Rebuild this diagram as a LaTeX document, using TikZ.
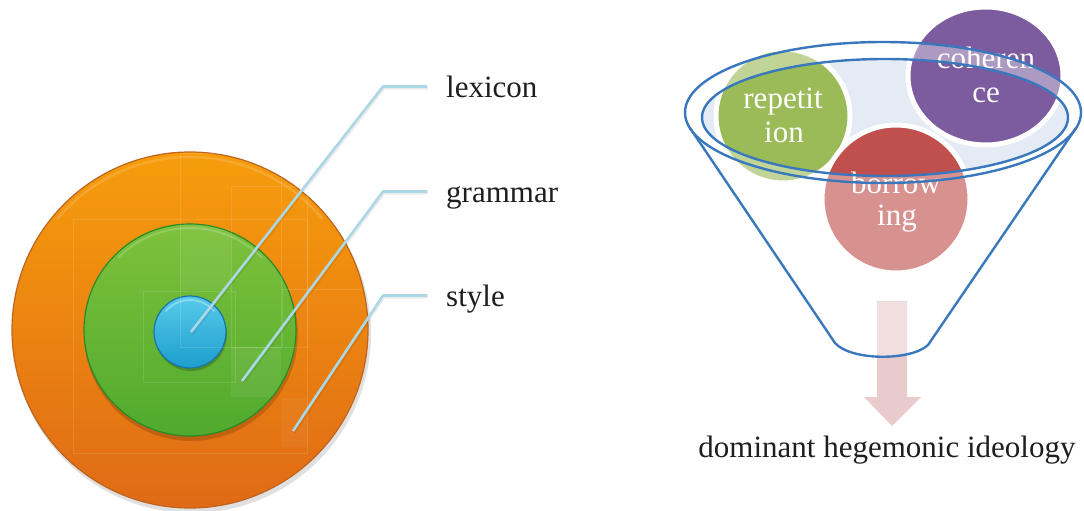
\documentclass[tikz,border=0pt]{standalone}
\usepackage{fontspec}
\setmainfont{Liberation Serif}
\usetikzlibrary{shapes.geometric}

\definecolor{orTop}{RGB}{246,157,12}
\definecolor{orBot}{RGB}{224,106,22}
\definecolor{orEdge}{RGB}{190,100,30}
\definecolor{grTop}{RGB}{126,193,60}
\definecolor{grBot}{RGB}{80,170,46}
\definecolor{grEdge}{RGB}{38,138,40}
\definecolor{blTop}{RGB}{88,202,236}
\definecolor{blBot}{RGB}{28,158,205}
\definecolor{blEdge}{RGB}{22,118,168}
\definecolor{connblue}{RGB}{172,215,228}
\definecolor{funnelblue}{RGB}{58,120,190}
\definecolor{paleblue}{RGB}{228,235,244}
\definecolor{repGreen}{RGB}{155,187,89}
\definecolor{cohPurple}{RGB}{124,92,159}
\definecolor{borRed}{RGB}{192,80,77}
\definecolor{arrowPink}{RGB}{233,203,203}
\definecolor{inkgray}{RGB}{30,30,30}

\begin{document}
\begin{tikzpicture}[x=1pt,y=-1pt,
  disc/.style={circle, inner sep=0pt, line width=1.2pt},
  lab/.style={font=\fontsize{31}{34}\selectfont, text=inkgray, inner sep=0pt,
              text height=21pt, text depth=0pt, anchor=base west},
  conn/.style={draw=connblue, line width=2.6pt, line join=round},
  connshade/.style={draw=black, opacity=0.08, line width=3pt, line join=round},
  faint/.style={draw=white, opacity=0.12, line width=0.6pt},
  ball/.style={circle, inner sep=0pt, draw=white, line width=5pt},
  cl/.style={font=\fontsize{31}{34}\selectfont, text=white, inner sep=0pt, anchor=base},
  funnel/.style={draw=funnelblue, line width=2.4pt, line join=round},
]
\useasboundingbox (0,0) rectangle (1084,511);

% ---------- nested discs ----------
\fill[black, opacity=0.12] (192,334) circle (179pt);
\node[disc, top color=orTop, bottom color=orBot, draw=orEdge, minimum size=356pt] (styleDisc) at (190,330) {};
\draw[white, opacity=0.14, line width=2.5pt] ([shift={(140:173pt)}]190,330) arc[start angle=140, end angle=40, radius=173pt];

\fill[black, opacity=0.16] (191,334) circle (107pt);
\node[disc, top color=grTop, bottom color=grBot, draw=grEdge, minimum size=212pt] (grammarDisc) at (190,330) {};
\draw[white, opacity=0.18, line width=2pt] ([shift={(135:102pt)}]190,330) arc[start angle=135, end angle=45, radius=102pt];

\fill[black, opacity=0.2] (191,335) circle (36pt);
\node[disc, top color=blTop, bottom color=blBot, draw=blEdge, minimum size=72pt] (lexiconDisc) at (190,332) {};
\draw[white, opacity=0.35, line width=1.6pt] ([shift={(140:32pt)}]190,332) arc[start angle=140, end angle=40, radius=32pt];

% soft light patches and hairlines on the discs
\begin{scope}
  \clip (190,330) circle (106pt);
  \fill[white, opacity=0.05] (180,223) rectangle (231,290);
  \fill[white, opacity=0.06] (231,347) rectangle (281,397);
\end{scope}
\fill[white, opacity=0.04] (281,398) rectangle (307,447);
\draw[faint] (73,219) rectangle (307,453);
\draw[faint] (180,153) rectangle (281,347);
\draw[faint] (231,186) rectangle (307,347);
\draw[faint] (143,291) rectangle (235,382);
\draw[faint] (282,289) -- (362,289);
\draw[faint] (282,289) -- (282,347);

% ---------- labels and leader lines ----------
\node[lab] (lexicon) at (446,97) {lexicon};
\node[lab] (grammar) at (446,202) {grammar};
\node[lab] (style) at (446,306) {style};

\coordinate (lexEnd) at (191,332);
\coordinate (gramEnd) at (242,381);
\coordinate (styEnd) at (293,431);

\foreach \lbl/\tip in {lexicon/lexEnd, grammar/gramEnd, style/styEnd}{
  \draw[connshade] ([xshift=-18pt,yshift=-1.5pt]\lbl.west) -- ++(-44,0) -- ([xshift=1pt,yshift=-1.5pt]\tip);
  \draw[conn] ([xshift=-19pt]\lbl.west) -- ++(-44,0) -- (\tip);
}

% ---------- funnel ----------
\fill[paleblue] (885,117.5) ellipse [x radius=183pt, y radius=58.5pt];

\node[ball, fill=repGreen, minimum size=134pt] (repetition) at (783,116) {};
\node[ball, ellipse, fill=cohPurple, minimum width=155pt, minimum height=138pt] (coherence) at (985.5,76) {};
\node[ball, fill=borRed, minimum size=148pt] (borrowing) at (896,199) {};

% downward arrow
\fill[arrowPink] (877,301) -- (907,301) -- (907,397) -- (921,397) -- (892,426)
  -- (864,397) -- (877,397) -- cycle;

% translucent funnel body, open at the rim
\fill[white, opacity=0.38, even odd rule]
  (690,128) -- (835,343) .. controls (851,361) and (911,361) .. (928,345) -- (1076,128)
  arc[start angle=-12.9, end angle=192.9, x radius=198pt, y radius=70.5pt] -- cycle
  (885,117.5) ellipse [x radius=183pt, y radius=58.5pt];

\node[cl] (repA) at (783,108) {repetit};
\node[cl] (repB) at (784,142) {ion};
\node[cl] (cohA) at (986,68) {coheren};
\node[cl] (cohB) at (986,102) {ce};
\node[cl] (borA) at (896,193) {borrow};
\node[cl] (borB) at (897,225) {ing};

\draw[funnel] (883,112.5) ellipse [x radius=198pt, y radius=70.5pt];
\draw[funnel] (885,117.5) ellipse [x radius=183pt, y radius=58.5pt];
\draw[funnel] (690,128) -- (835,343) .. controls (851,361) and (911,361) .. (928,345) -- (1076,128);

\node[font=\fontsize{31}{34}\selectfont, text=inkgray, inner sep=0pt, anchor=base] (ideology) at (887,457) {dominant hegemonic ideology};
\end{tikzpicture}
\end{document}
